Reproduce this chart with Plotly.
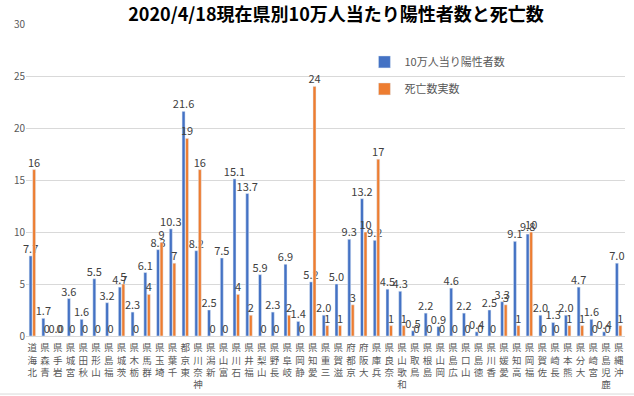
import plotly.graph_objects as go

prefectures = ["北海道", "青森県", "岩手県", "宮城県", "秋田県", "山形県", "福島県", "茨城県", "栃木県", "群馬県",
               "埼玉県", "千葉県", "東京都", "神奈川県", "新潟県", "富山県", "石川県", "福井県", "山梨県", "長野県",
               "岐阜県", "静岡県", "愛知県", "三重県", "滋賀県", "京都府", "大阪府", "兵庫県", "奈良県", "和歌山県",
               "鳥取県", "島根県", "岡山県", "広島県", "山口県", "徳島県", "香川県", "愛媛県", "高知県", "福岡県",
               "佐賀県", "長崎県", "熊本県", "大分県", "宮崎県", "鹿児島県", "沖縄県"]

positives_per_100k = [7.7, 1.7, 0.0, 3.6, 1.6, 5.5, 3.2, 4.7, 2.3, 6.1,
                      8.3, 10.3, 21.6, 8.2, 2.5, 7.5, 15.1, 13.7, 5.9, 2.3,
                      6.9, 1.4, 5.2, 2.0, 5.0, 9.3, 13.2, 9.2, 4.5, 4.3,
                      0.5, 2.2, 0.9, 4.6, 2.2, 0.4, 2.5, 3.3, 9.1, 9.8,
                      2.0, 1.3, 2.0, 4.7, 1.6, 0.4, 7.0]

deaths = [16, 0, 0, 0, 0, 0, 0, 5, 0, 4,
          9, 7, 19, 16, 0, 0, 4, 2, 0, 0,
          2, 0, 24, 1, 1, 3, 10, 17, 1, 1,
          0, 0, 0, 0, 0, 0, 0, 3, 1, 10,
          0, 0, 1, 1, 0, 0, 1]

series_names = ["10万人当り陽性者数", "死亡数実数"]
title_text = "2020/4/18現在県別10万人当たり陽性者数と死亡数"

# vertical labels: characters stacked, reading bottom to top
tick_text = ["<br>".join(reversed(list(p))) for p in prefectures]

label_font = dict(family="Noto Sans CJK JP", size=11, color="#404040")

fig = go.Figure()
fig.add_trace(go.Bar(
    x=prefectures, y=positives_per_100k, name=series_names[0],
    marker_color="#4472C4", texttemplate="%{y:.1f}", textposition="outside",
    textfont=label_font, cliponaxis=False, constraintext="none",
    legendgroup="a"))
fig.add_trace(go.Bar(
    x=prefectures, y=deaths, name=series_names[1],
    marker_color="#ED7D31", texttemplate="%{y}", textposition="outside",
    textfont=label_font, cliponaxis=False, constraintext="none",
    legendgroup="b"))

fig.update_layout(
    width=634, height=396,
    margin=dict(l=26, r=9, t=24, b=60, autoexpand=False),
    paper_bgcolor="white", plot_bgcolor="white",
    barmode="group", bargap=0.45, bargroupgap=0.15,
    title=dict(text=title_text, x=0.53, xref="container", xanchor="center",
               y=0.962, yref="container", yanchor="middle",
               font=dict(family="Noto Sans CJK JP", size=18, color="#000000", weight="bold")),
    font=dict(family="Noto Sans CJK JP", color="#595959"),
    showlegend=True,
    legend=dict(x=0.565, y=0.925, xanchor="left", yanchor="top",
                font=dict(size=11, color="#595959"), tracegroupgap=8,
                bgcolor="rgba(0,0,0,0)", itemwidth=30),
    xaxis=dict(tickmode="array", tickvals=prefectures, ticktext=tick_text,
               tickangle=0, tickfont=dict(size=9.5, color="#595959"),
               showline=True, linecolor="#d9d9d9", ticks="", showgrid=False,
               automargin=False, ticklabelstandoff=3),
    yaxis=dict(range=[0, 30], dtick=5, showgrid=True, gridcolor="#d9d9d9",
               zeroline=False, tickfont=dict(size=10, color="#595959"),
               ticks="", showline=False, automargin=False),
    shapes=[dict(type="line", xref="paper", yref="paper", x0=-0.05, x1=1.02,
                 y0=-0.186, y1=-0.186, line=dict(color="#d9d9d9", width=1))],
)

fig.write_html("out.html", config={"displayModeBar": False},
               post_script="document.body.style.margin='0';")
